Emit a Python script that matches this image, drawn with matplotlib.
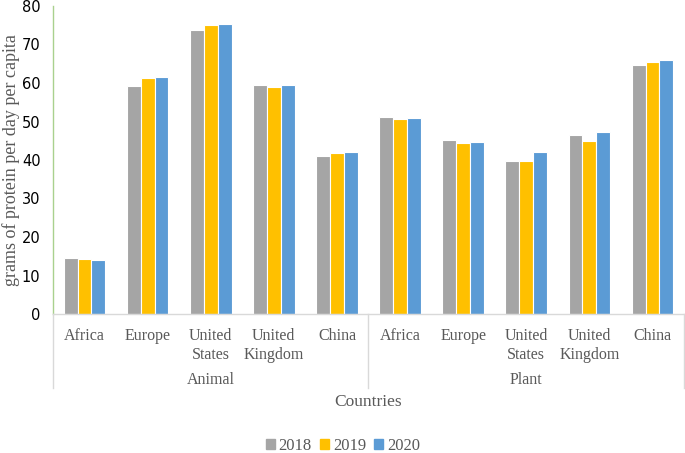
import numpy as np
import matplotlib
matplotlib.use('Agg')
import matplotlib.pyplot as plt
from matplotlib.patches import Rectangle
from matplotlib.lines import Line2D

countries = ['Africa', 'Europe', 'United\nStates', 'United\nKingdom', 'China']
groups = ['Animal', 'Plant']
years = ['2018', '2019', '2020']
colors = ['#a5a5a5', '#ffc000', '#5b9bd5']

animal_2018 = [14.5, 59.1, 73.8, 59.6, 41.0]
animal_2019 = [14.4, 61.2, 75.1, 59.0, 41.7]
animal_2020 = [14.0, 61.5, 75.2, 59.5, 42.1]
plant_2018 = [51.2, 45.2, 39.8, 46.4, 64.8]
plant_2019 = [50.7, 44.3, 39.8, 44.9, 65.5]
plant_2020 = [50.8, 44.7, 42.0, 47.3, 65.9]

series = [animal_2018 + plant_2018,
          animal_2019 + plant_2019,
          animal_2020 + plant_2020]

serif = 'Liberation Serif'
gray = '#595959'

W, H = 685, 453
fig = plt.figure(figsize=(6.85, 4.53), dpi=100)
ax = fig.add_axes([53 / W, (H - 314) / H, (684 - 53) / W, 308 / H])

x = np.arange(10)
bw = 0.22
for i, vals in enumerate(series):
    ax.bar(x + (i - 1) * bw, vals, width=bw, color=colors[i],
           edgecolor='white', linewidth=0.8, label=years[i])

ax.set_xlim(-0.5, 9.5)
ax.set_ylim(0, 80)
ax.set_yticks(range(0, 81, 10))
ax.tick_params(axis='y', length=0, pad=9, labelsize=10.5, labelcolor='#000000')
ax.set_xticks([])
for s in ['top', 'right', 'bottom']:
    ax.spines[s].set_visible(False)
ax.spines['left'].set_color('#a9d18e')
ax.spines['left'].set_linewidth(1)

ax.set_ylabel('grams of protein per day per capita', fontfamily=serif,
              fontsize=13, color=gray, labelpad=1)

# category axis lines (pixel coords)
lc = '#d9d9d9'
fig.add_artist(Line2D([53 / W, 684 / W], [1 - 314 / H] * 2, color=lc, lw=1))
for xp in [53, 368, 684]:
    fig.add_artist(Line2D([xp / W] * 2, [1 - 314 / H, 1 - 388 / H], color=lc, lw=1))

# category labels
trans = ax.get_xaxis_transform()
labels = countries * 2
for i, lab in enumerate(labels):
    ax.text(x[i], -0.045, lab, transform=trans, ha='center', va='top',
            fontfamily=serif, fontsize=11.5, color=gray, linespacing=1.3)

for j, g in enumerate(groups):
    ax.text(2 + 5 * j, 1 - (380 - 6) / 308, g, transform=trans,
            ha='center', va='center', fontfamily=serif, fontsize=11.5, color=gray)

fig.text(368 / W, 1 - 402 / H, 'Countries', ha='center', va='center',
         fontfamily=serif, fontsize=12.5, color=gray)

handles = [Rectangle((0, 0), 1, 1, color=c) for c in colors]
leg = fig.legend(handles, years, loc='center', bbox_to_anchor=(343 / W, 1 - 446 / H),
                 ncol=3, frameon=False, handlelength=0.55, handleheight=0.55,
                 handletextpad=0.2, columnspacing=0.5,
                 prop={'family': serif, 'size': 12})
for t in leg.get_texts():
    t.set_color(gray)

fig.savefig('out.png', dpi=100)
